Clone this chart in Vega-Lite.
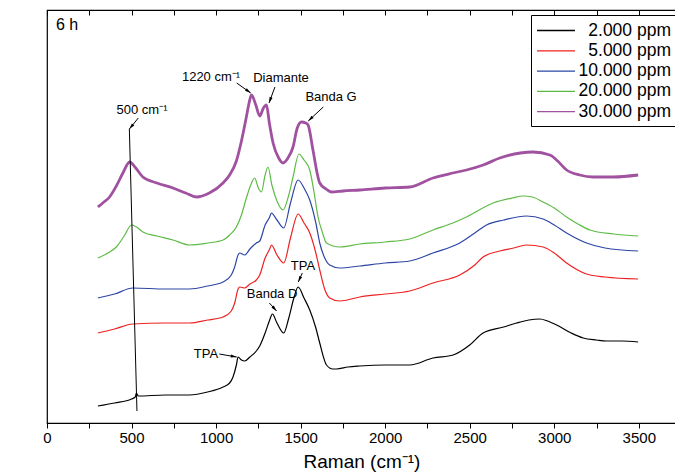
{
  "$schema": "https://vega.github.io/schema/vega-lite/v6.json",
  "width": 629,
  "height": 413,
  "autosize": {"type": "none"},
  "padding": {"left": 47, "top": 10, "right": 0, "bottom": 53},
  "config": {
    "font": "Liberation Sans",
    "view": {"stroke": "black", "strokeWidth": 1.2},
    "axis": {"domainColor": "black", "tickColor": "black", "labelColor": "black", "titleColor": "black", "grid": false, "titleFontWeight": "normal"}
  },
  "datasets": {
    "spectra": [
      {"s":"2.000 ppm","x":301,"y":17},{"s":"2.000 ppm","x":400,"y":20},{"s":"2.000 ppm","x":500,"y":24},{"s":"2.000 ppm","x":522,"y":26},{"s":"2.000 ppm","x":528,"y":30},{"s":"2.000 ppm","x":540,"y":27},{"s":"2.000 ppm","x":700,"y":28},{"s":"2.000 ppm","x":844,"y":28},{"s":"2.000 ppm","x":950,"y":31},{"s":"2.000 ppm","x":1041,"y":36},{"s":"2.000 ppm","x":1080,"y":40},{"s":"2.000 ppm","x":1100,"y":46},{"s":"2.000 ppm","x":1120,"y":58},{"s":"2.000 ppm","x":1130,"y":66},{"s":"2.000 ppm","x":1150,"y":63},{"s":"2.000 ppm","x":1169,"y":62},{"s":"2.000 ppm","x":1200,"y":66},{"s":"2.000 ppm","x":1238,"y":72},{"s":"2.000 ppm","x":1258,"y":77},{"s":"2.000 ppm","x":1290,"y":90},{"s":"2.000 ppm","x":1317,"y":103},{"s":"2.000 ppm","x":1333,"y":109},{"s":"2.000 ppm","x":1360,"y":100},{"s":"2.000 ppm","x":1400,"y":90},{"s":"2.000 ppm","x":1430,"y":105},{"s":"2.000 ppm","x":1460,"y":125},{"s":"2.000 ppm","x":1485,"y":136},{"s":"2.000 ppm","x":1520,"y":125},{"s":"2.000 ppm","x":1554,"y":113},{"s":"2.000 ppm","x":1590,"y":95},{"s":"2.000 ppm","x":1613,"y":80},{"s":"2.000 ppm","x":1653,"y":58},{"s":"2.000 ppm","x":1690,"y":54},{"s":"2.000 ppm","x":1712,"y":54},{"s":"2.000 ppm","x":1780,"y":56},{"s":"2.000 ppm","x":1850,"y":57},{"s":"2.000 ppm","x":2000,"y":58},{"s":"2.000 ppm","x":2145,"y":58},{"s":"2.000 ppm","x":2283,"y":65},{"s":"2.000 ppm","x":2402,"y":68},{"s":"2.000 ppm","x":2500,"y":78},{"s":"2.000 ppm","x":2579,"y":90},{"s":"2.000 ppm","x":2700,"y":96},{"s":"2.000 ppm","x":2777,"y":100},{"s":"2.000 ppm","x":2850,"y":103},{"s":"2.000 ppm","x":2915,"y":104},{"s":"2.000 ppm","x":2960,"y":102},{"s":"2.000 ppm","x":3014,"y":98},{"s":"2.000 ppm","x":3100,"y":90},{"s":"2.000 ppm","x":3171,"y":85},{"s":"2.000 ppm","x":3250,"y":83},{"s":"2.000 ppm","x":3309,"y":82},{"s":"2.000 ppm","x":3400,"y":82},{"s":"2.000 ppm","x":3496,"y":81},

      {"s":"5.000 ppm","x":301,"y":90},{"s":"5.000 ppm","x":400,"y":94},{"s":"5.000 ppm","x":508,"y":99},{"s":"5.000 ppm","x":700,"y":100},{"s":"5.000 ppm","x":844,"y":100},{"s":"5.000 ppm","x":950,"y":103},{"s":"5.000 ppm","x":1041,"y":106},{"s":"5.000 ppm","x":1090,"y":112},{"s":"5.000 ppm","x":1110,"y":120},{"s":"5.000 ppm","x":1130,"y":134},{"s":"5.000 ppm","x":1140,"y":136},{"s":"5.000 ppm","x":1169,"y":135},{"s":"5.000 ppm","x":1200,"y":139},{"s":"5.000 ppm","x":1238,"y":143},{"s":"5.000 ppm","x":1258,"y":148},{"s":"5.000 ppm","x":1290,"y":165},{"s":"5.000 ppm","x":1317,"y":174},{"s":"5.000 ppm","x":1327,"y":178},{"s":"5.000 ppm","x":1360,"y":168},{"s":"5.000 ppm","x":1400,"y":160},{"s":"5.000 ppm","x":1440,"y":185},{"s":"5.000 ppm","x":1485,"y":209},{"s":"5.000 ppm","x":1520,"y":200},{"s":"5.000 ppm","x":1554,"y":190},{"s":"5.000 ppm","x":1590,"y":170},{"s":"5.000 ppm","x":1613,"y":153},{"s":"5.000 ppm","x":1640,"y":135},{"s":"5.000 ppm","x":1672,"y":125},{"s":"5.000 ppm","x":1731,"y":122},{"s":"5.000 ppm","x":1850,"y":126},{"s":"5.000 ppm","x":2000,"y":129},{"s":"5.000 ppm","x":2145,"y":132},{"s":"5.000 ppm","x":2283,"y":140},{"s":"5.000 ppm","x":2441,"y":148},{"s":"5.000 ppm","x":2530,"y":158},{"s":"5.000 ppm","x":2579,"y":166},{"s":"5.000 ppm","x":2678,"y":172},{"s":"5.000 ppm","x":2760,"y":175},{"s":"5.000 ppm","x":2836,"y":178},{"s":"5.000 ppm","x":2934,"y":176},{"s":"5.000 ppm","x":3000,"y":170},{"s":"5.000 ppm","x":3073,"y":160},{"s":"5.000 ppm","x":3191,"y":149},{"s":"5.000 ppm","x":3300,"y":146},{"s":"5.000 ppm","x":3496,"y":144},

      {"s":"10.000 ppm","x":301,"y":125},{"s":"10.000 ppm","x":400,"y":129},{"s":"10.000 ppm","x":508,"y":135},{"s":"10.000 ppm","x":700,"y":134},{"s":"10.000 ppm","x":844,"y":134},{"s":"10.000 ppm","x":950,"y":137},{"s":"10.000 ppm","x":1041,"y":141},{"s":"10.000 ppm","x":1090,"y":148},{"s":"10.000 ppm","x":1110,"y":156},{"s":"10.000 ppm","x":1130,"y":168},{"s":"10.000 ppm","x":1140,"y":170},{"s":"10.000 ppm","x":1169,"y":168},{"s":"10.000 ppm","x":1200,"y":174},{"s":"10.000 ppm","x":1238,"y":180},{"s":"10.000 ppm","x":1258,"y":182},{"s":"10.000 ppm","x":1290,"y":198},{"s":"10.000 ppm","x":1317,"y":206},{"s":"10.000 ppm","x":1327,"y":210},{"s":"10.000 ppm","x":1360,"y":203},{"s":"10.000 ppm","x":1400,"y":195},{"s":"10.000 ppm","x":1440,"y":220},{"s":"10.000 ppm","x":1485,"y":243},{"s":"10.000 ppm","x":1520,"y":235},{"s":"10.000 ppm","x":1554,"y":223},{"s":"10.000 ppm","x":1590,"y":200},{"s":"10.000 ppm","x":1613,"y":180},{"s":"10.000 ppm","x":1640,"y":166},{"s":"10.000 ppm","x":1672,"y":158},{"s":"10.000 ppm","x":1731,"y":155},{"s":"10.000 ppm","x":1850,"y":157},{"s":"10.000 ppm","x":2000,"y":160},{"s":"10.000 ppm","x":2145,"y":162},{"s":"10.000 ppm","x":2283,"y":170},{"s":"10.000 ppm","x":2441,"y":180},{"s":"10.000 ppm","x":2530,"y":190},{"s":"10.000 ppm","x":2599,"y":198},{"s":"10.000 ppm","x":2700,"y":203},{"s":"10.000 ppm","x":2836,"y":207},{"s":"10.000 ppm","x":2934,"y":204},{"s":"10.000 ppm","x":3000,"y":198},{"s":"10.000 ppm","x":3073,"y":190},{"s":"10.000 ppm","x":3191,"y":180},{"s":"10.000 ppm","x":3300,"y":175},{"s":"10.000 ppm","x":3496,"y":172},

      {"s":"20.000 ppm","x":301,"y":165},{"s":"20.000 ppm","x":360,"y":170},{"s":"20.000 ppm","x":410,"y":176},{"s":"20.000 ppm","x":460,"y":188},{"s":"20.000 ppm","x":499,"y":198},{"s":"20.000 ppm","x":530,"y":196},{"s":"20.000 ppm","x":567,"y":191},{"s":"20.000 ppm","x":650,"y":187},{"s":"20.000 ppm","x":745,"y":183},{"s":"20.000 ppm","x":844,"y":178},{"s":"20.000 ppm","x":950,"y":180},{"s":"20.000 ppm","x":1041,"y":183},{"s":"20.000 ppm","x":1080,"y":188},{"s":"20.000 ppm","x":1120,"y":196},{"s":"20.000 ppm","x":1150,"y":208},{"s":"20.000 ppm","x":1179,"y":225},{"s":"20.000 ppm","x":1210,"y":240},{"s":"20.000 ppm","x":1228,"y":245},{"s":"20.000 ppm","x":1250,"y":235},{"s":"20.000 ppm","x":1268,"y":231},{"s":"20.000 ppm","x":1290,"y":248},{"s":"20.000 ppm","x":1307,"y":256},{"s":"20.000 ppm","x":1330,"y":238},{"s":"20.000 ppm","x":1360,"y":222},{"s":"20.000 ppm","x":1396,"y":213},{"s":"20.000 ppm","x":1430,"y":228},{"s":"20.000 ppm","x":1455,"y":246},{"s":"20.000 ppm","x":1490,"y":269},{"s":"20.000 ppm","x":1520,"y":263},{"s":"20.000 ppm","x":1554,"y":253},{"s":"20.000 ppm","x":1580,"y":230},{"s":"20.000 ppm","x":1603,"y":206},{"s":"20.000 ppm","x":1630,"y":190},{"s":"20.000 ppm","x":1653,"y":180},{"s":"20.000 ppm","x":1731,"y":176},{"s":"20.000 ppm","x":1850,"y":179},{"s":"20.000 ppm","x":2000,"y":181},{"s":"20.000 ppm","x":2145,"y":184},{"s":"20.000 ppm","x":2283,"y":193},{"s":"20.000 ppm","x":2400,"y":200},{"s":"20.000 ppm","x":2481,"y":206},{"s":"20.000 ppm","x":2638,"y":220},{"s":"20.000 ppm","x":2750,"y":225},{"s":"20.000 ppm","x":2816,"y":227},{"s":"20.000 ppm","x":2870,"y":226},{"s":"20.000 ppm","x":2934,"y":221},{"s":"20.000 ppm","x":3000,"y":215},{"s":"20.000 ppm","x":3073,"y":206},{"s":"20.000 ppm","x":3140,"y":199},{"s":"20.000 ppm","x":3211,"y":193},{"s":"20.000 ppm","x":3350,"y":189},{"s":"20.000 ppm","x":3496,"y":187},

      {"s":"30.000 ppm","x":301,"y":216},{"s":"30.000 ppm","x":330,"y":220},{"s":"30.000 ppm","x":370,"y":226},{"s":"30.000 ppm","x":410,"y":237},{"s":"30.000 ppm","x":449,"y":250},{"s":"30.000 ppm","x":489,"y":261},{"s":"30.000 ppm","x":520,"y":256},{"s":"30.000 ppm","x":567,"y":246},{"s":"30.000 ppm","x":650,"y":240},{"s":"30.000 ppm","x":745,"y":235},{"s":"30.000 ppm","x":820,"y":230},{"s":"30.000 ppm","x":883,"y":226},{"s":"30.000 ppm","x":960,"y":230},{"s":"30.000 ppm","x":1041,"y":240},{"s":"30.000 ppm","x":1080,"y":248},{"s":"30.000 ppm","x":1120,"y":262},{"s":"30.000 ppm","x":1150,"y":282},{"s":"30.000 ppm","x":1179,"y":306},{"s":"30.000 ppm","x":1195,"y":320},{"s":"30.000 ppm","x":1209,"y":328},{"s":"30.000 ppm","x":1235,"y":318},{"s":"30.000 ppm","x":1258,"y":307},{"s":"30.000 ppm","x":1280,"y":315},{"s":"30.000 ppm","x":1298,"y":318},{"s":"30.000 ppm","x":1315,"y":300},{"s":"30.000 ppm","x":1337,"y":280},{"s":"30.000 ppm","x":1370,"y":265},{"s":"30.000 ppm","x":1396,"y":260},{"s":"30.000 ppm","x":1425,"y":265},{"s":"30.000 ppm","x":1455,"y":276},{"s":"30.000 ppm","x":1480,"y":295},{"s":"30.000 ppm","x":1505,"y":301},{"s":"30.000 ppm","x":1530,"y":300},{"s":"30.000 ppm","x":1544,"y":298},{"s":"30.000 ppm","x":1573,"y":273},{"s":"30.000 ppm","x":1600,"y":248},{"s":"30.000 ppm","x":1613,"y":240},{"s":"30.000 ppm","x":1650,"y":234},{"s":"30.000 ppm","x":1682,"y":231},{"s":"30.000 ppm","x":1750,"y":232},{"s":"30.000 ppm","x":1850,"y":233},{"s":"30.000 ppm","x":2000,"y":235},{"s":"30.000 ppm","x":2145,"y":236},{"s":"30.000 ppm","x":2283,"y":245},{"s":"30.000 ppm","x":2400,"y":250},{"s":"30.000 ppm","x":2481,"y":253},{"s":"30.000 ppm","x":2580,"y":258},{"s":"30.000 ppm","x":2678,"y":265},{"s":"30.000 ppm","x":2800,"y":270},{"s":"30.000 ppm","x":2875,"y":271},{"s":"30.000 ppm","x":2974,"y":268},{"s":"30.000 ppm","x":3020,"y":262},{"s":"30.000 ppm","x":3073,"y":253},{"s":"30.000 ppm","x":3150,"y":248},{"s":"30.000 ppm","x":3230,"y":246},{"s":"30.000 ppm","x":3350,"y":246},{"s":"30.000 ppm","x":3496,"y":248}
    ],
    "arrows": [
      {"x1":540,"y1":305,"x2":487,"y2":294},
      {"x1":1122,"y1":340,"x2":1205,"y2":330},
      {"x1":1348,"y1":336,"x2":1313,"y2":320},
      {"x1":1634,"y1":316,"x2":1545,"y2":302},
      {"x1":1315,"y1":120,"x2":1358,"y2":112},
      {"x1":1510,"y1":150,"x2":1486,"y2":141},
      {"x1":1019,"y1":69,"x2":1122,"y2":66}
    ],
    "leader": [
      {"x1":487,"y1":294,"x2":532,"y2":12}
    ],
    "labels": [
      {"x":562,"y":313,"t":"500 cm⁻¹"},
      {"x":970,"y":346,"t":"1220 cm⁻¹"},
      {"x":1384,"y":345,"t":"Diamante"},
      {"x":1680,"y":326,"t":"Banda G"},
      {"x":1331,"y":129,"t":"Banda D"},
      {"x":1514,"y":157,"t":"TPA"},
      {"x":940,"y":69,"t":"TPA"}
    ],
    "tag": [
      {"x":53,"y":398,"t":"6 h"}
    ]
  },
  "resolve": {"axis": {"x": "independent"}},
  "layer": [
    {
      "data": {"name": "spectra"},
      "transform": [{"filter": "datum.s !== '30.000 ppm'"}],
      "mark": {"type": "line", "strokeWidth": 1.2, "interpolate": "monotone"},
      "encoding": {
        "x": {"field": "x", "type": "quantitative", "scale": {"domain": [0, 3720], "nice": false, "zero": false},
          "axis": {"orient": "bottom", "values": [0,250,500,750,1000,1250,1500,1750,2000,2250,2500,2750,3000,3250,3500], "format": "d", "labelExpr": "datum.value % 500 === 0 ? datum.label : ''", "tickSize": 5, "labelFontSize": 15, "labelPadding": 2, "title": "Raman (cm⁻¹)", "titleFontSize": 19, "titlePadding": 7, "labelFlush": false, "labelOverlap": false}},
        "y": {"field": "y", "type": "quantitative", "scale": {"domain": [0, 413], "nice": false},
          "axis": {"values": [25.8,51.6,77.4,103.2,129,154.8,180.6,206.4,232.2,258,283.8,309.6,335.4,361.2,387], "labels": false, "tickSize": -4, "title": "Intensidade (u. a.)", "titleFontSize": 19, "titleX": -17, "titleY": 231, "titleAngle": -90, "titleBaseline": "bottom", "titleAlign": "center"}},
        "color": {"field": "s", "type": "nominal",
          "scale": {"domain": ["2.000 ppm","5.000 ppm","10.000 ppm","20.000 ppm","30.000 ppm"], "range": ["#000000","#EE2222","#2D46A5","#5DBB45","#A052A0"]},
          "legend": {"title": null, "orient": "none", "legendX": 484, "legendY": 5, "symbolType": "M-1,0H3", "symbolSize": 361, "symbolStrokeWidth": 1.3, "rowPadding": 1.3, "labelFontSize": 17.5, "labelOffset": 114, "labelAlign": "right", "padding": 5, "strokeColor": "black", "fillColor": "white", "labelColor": "black"}}
      }
    },
    {
      "data": {"name": "spectra"},
      "transform": [{"filter": "datum.s === '30.000 ppm'"}],
      "mark": {"type": "line", "strokeWidth": 2.8, "interpolate": "monotone"},
      "encoding": {
        "x": {"field": "x", "type": "quantitative", "axis": null},
        "y": {"field": "y", "type": "quantitative", "axis": null},
        "color": {"field": "s", "type": "nominal"}
      }
    },
    {
      "data": {"name": "leader"},
      "mark": {"type": "rule", "color": "black", "strokeWidth": 1},
      "encoding": {
        "x": {"field": "x1", "type": "quantitative", "axis": {"orient": "top", "values": [0,250,500,750,1000,1250,1500,1750,2000,2250,2500,2750,3000,3250,3500], "labels": false, "tickSize": -5, "title": null}},
        "y": {"field": "y1", "type": "quantitative", "axis": null},
        "x2": {"field": "x2"},
        "y2": {"field": "y2"}
      }
    },
    {
      "data": {"name": "arrows"},
      "mark": {"type": "rule", "color": "black", "strokeWidth": 1},
      "encoding": {
        "x": {"field": "x1", "type": "quantitative", "axis": null},
        "y": {"field": "y1", "type": "quantitative", "axis": null},
        "x2": {"field": "x2"},
        "y2": {"field": "y2"}
      }
    },
    {
      "data": {"name": "arrows"},
      "transform": [{"calculate": "atan2((datum.x2 - datum.x1) / 5.914, datum.y2 - datum.y1) * 180 / PI", "as": "ang"}],
      "mark": {"type": "point", "shape": "M0,0L0.45,1.7L-0.45,1.7Z", "filled": true, "color": "black", "size": 49, "opacity": 1},
      "encoding": {
        "x": {"field": "x2", "type": "quantitative", "axis": null},
        "y": {"field": "y2", "type": "quantitative", "axis": null},
        "angle": {"field": "ang", "type": "quantitative", "scale": null}
      }
    },
    {
      "data": {"name": "labels"},
      "mark": {"type": "text", "fontSize": 13, "color": "black", "align": "center", "baseline": "middle"},
      "encoding": {
        "x": {"field": "x", "type": "quantitative", "axis": null},
        "y": {"field": "y", "type": "quantitative", "axis": null},
        "text": {"field": "t"}
      }
    },
    {
      "data": {"name": "tag"},
      "mark": {"type": "text", "fontSize": 16, "color": "black", "align": "left", "baseline": "middle"},
      "encoding": {
        "x": {"field": "x", "type": "quantitative", "axis": null},
        "y": {"field": "y", "type": "quantitative", "axis": null},
        "text": {"field": "t"}
      }
    }
  ]
}
